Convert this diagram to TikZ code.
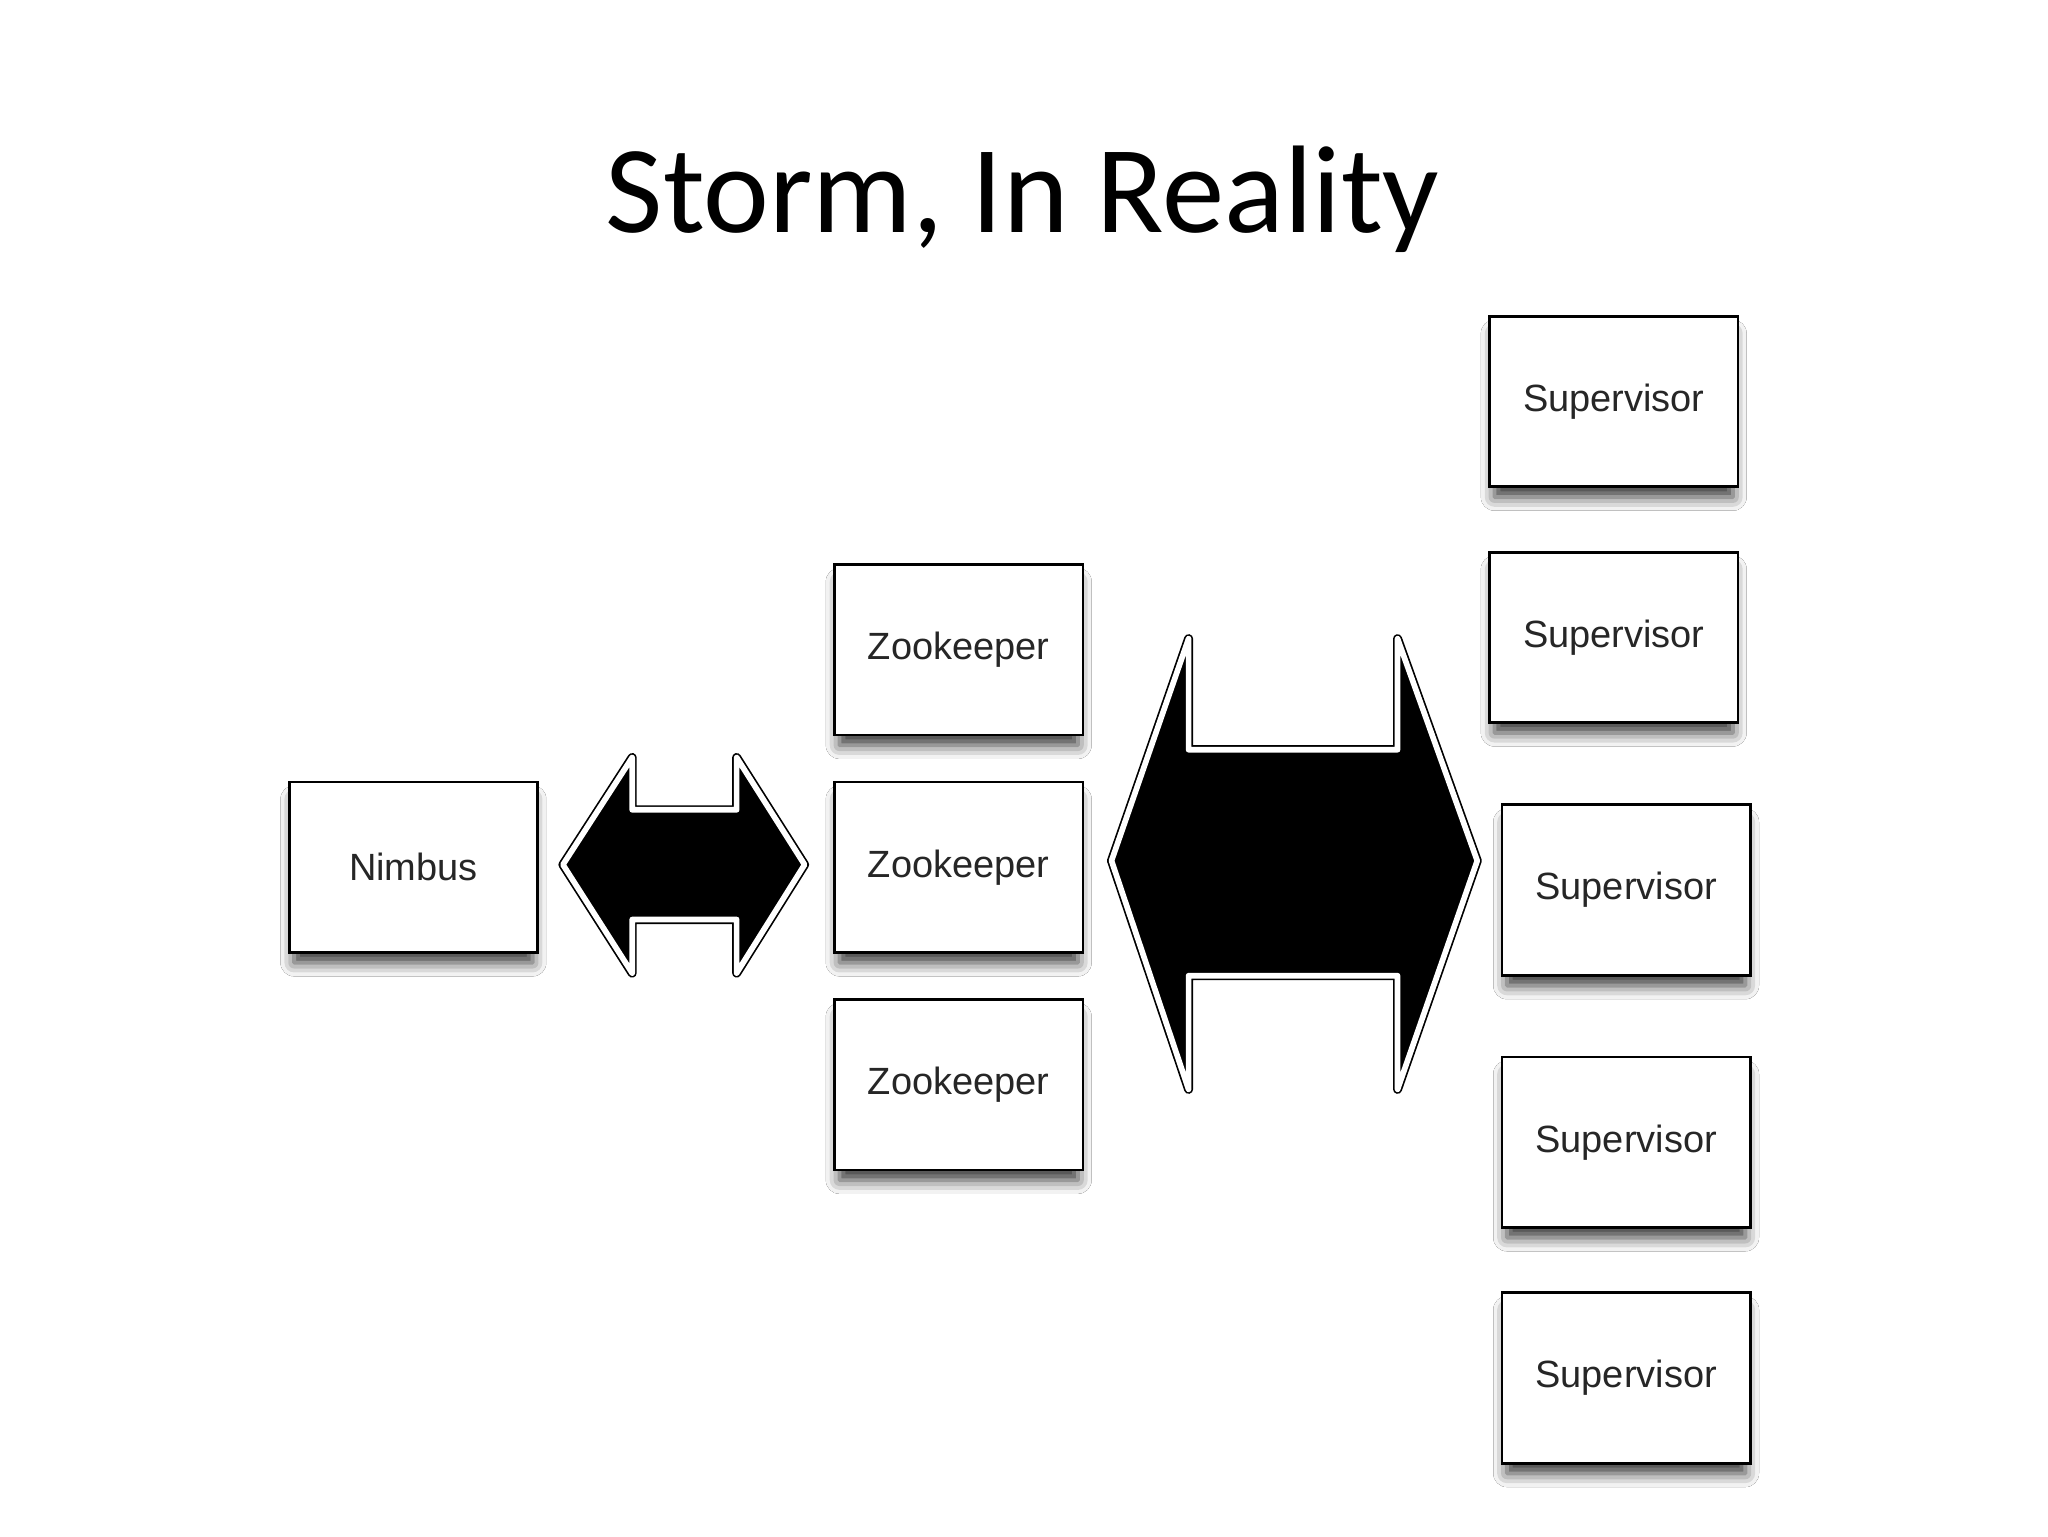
\documentclass[tikz,border=0pt]{standalone}
\usepackage{fontspec}
\newfontfamily\titlefont{Carlito}
\newfontfamily\boxfont{Liberation Sans}
\usetikzlibrary{shadows.blur}
\begin{document}
\begin{tikzpicture}[x=0.016199cm,y=-0.016199cm,
  box/.style={draw=black, line width=1pt, fill=white, inner sep=0pt,
    minimum width=87.7pt, minimum height=60.2pt,
    font=\boxfont\fontsize{13.4pt}{15pt}\selectfont, text=black!85,
    blur shadow={shadow xshift=0pt, shadow yshift=-5pt, shadow scale=0.96, shadow blur radius=5pt, shadow opacity=80}},
  arrowout/.style={draw=black, line width=3.2pt, line join=round},
  arrowin/.style={draw=white, fill=black, line width=2pt, line join=round}]
\useasboundingbox[fill=white] (0,0) rectangle (1568,1176);
\node[anchor=base, font=\titlefont\fontsize{44pt}{52pt}\selectfont] (title) at (783,178) {Storm, In Reality};

\node[box] (nimbus) at (316.5,664) {Nimbus};
\node[box] (zk1) at (734,497.5) {Zookeeper};
\node[box] (zk2) at (734,664) {Zookeeper};
\node[box] (zk3) at (734,830.5) {Zookeeper};
\node[box] (s1) at (1235.5,307.5) {Supervisor};
\node[box] (s2) at (1235.5,488) {Supervisor};
\node[box] (s3) at (1245,681.5) {Supervisor};
\node[box] (s4) at (1245,874.5) {Supervisor};
\node[box] (s5) at (1245,1055) {Supervisor};

\foreach \st in {arrowout,arrowin}{
  \path[\st] (431,662) -- (484,580) -- (484,620) -- (564,620) -- (564,580) -- (616,662)
    -- (564,745) -- (564,704) -- (484,704) -- (484,745) -- cycle;
  \path[\st] (851,659) -- (910,489) -- (910,574) -- (1070,574) -- (1070,489) -- (1131,659)
    -- (1070,834) -- (1070,747) -- (910,747) -- (910,834) -- cycle;
}
\end{tikzpicture}
\end{document}
